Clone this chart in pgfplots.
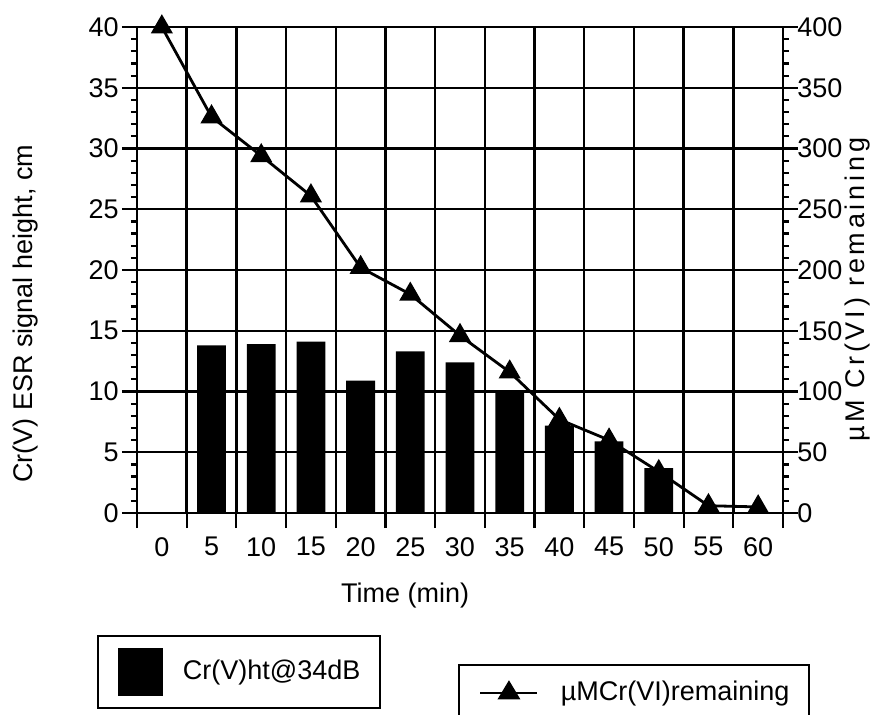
\documentclass[border=0pt]{standalone}
\usepackage{fontspec}
\setmainfont{Liberation Sans}
\newfontfamily\spaced[LetterSpace=14]{Liberation Sans}
\usepackage{pgfplots}
\pgfplotsset{compat=1.18}
\pgfplotstableread{
x y
5 13.8
10 13.9
15 14.1
20 10.9
25 13.3
30 12.4
35 10.0
40 7.2
45 5.9
50 3.7
}\bars
\pgfplotstableread{
x y
0 400
5 326
10 294
15 261
20 202
25 180
30 146
35 116
40 77
45 60
50 34
55 6
60 5
}\remain
\begin{document}
\fontsize{13.5bp}{16bp}\selectfont
\begin{tikzpicture}
\pgfplotsset{
  common/.style={
    scale only axis, width=323bp, height=243bp,
    at={(0,0)}, anchor=south west,
    xmin=-2.5, xmax=62.5,
    /pgf/number format/assume math mode=true,
    tick align=outside,
    major tick length=7.5bp, minor tick length=3bp,
    axis line style={line width=1.2bp, black},
    every tick/.style={line width=1.1bp, black},
    tick label style={inner sep=0pt},
  }
}
\begin{axis}[common,
  ymin=0, ymax=40,
  ytick={0,5,...,40}, minor y tick num=4,
  ytick pos=left,
  xtick={-2.5,2.5,...,62.5},
  xticklabels={0,5,10,15,20,25,30,35,40,45,50,55,60,{}},
  x tick label style={anchor=north, xshift=12.42bp, yshift=-4.5bp},
  xtick pos=bottom,
  xmajorgrids, ymajorgrids,
  grid style={black, line width=1.2bp},
  y tick label style={anchor=east, xshift=-1.5bp},
  ylabel={Cr(V) ESR signal height, cm},
  ylabel style={at={(axis description cs:-0.173,0.41)}, anchor=center},
  xlabel={Time (min)},
  xlabel style={at={(axis description cs:0.415,-0.169)}, anchor=center},
  legend style={at={(axis description cs:-0.062,-0.251)}, anchor=north west,
    draw=black, line width=1bp, inner xsep=10bp, inner ysep=6bp,
    /tikz/every odd column/.style={column sep=10bp},
    nodes={inner sep=0pt}},
]
\addplot[ybar, bar width=2.9, fill=black, draw=none,
  legend image code/.code={\fill[black] (0bp,-12bp) rectangle (22.5bp,12bp);}]
  table[x=x,y=y] {\bars};
\addlegendentry{Cr(V)ht@34dB}
\end{axis}
\begin{axis}[common,
  ymin=0, ymax=400,
  ytick={0,50,...,400}, minor y tick num=4,
  axis y line*=right, axis x line=none,
  y tick label style={anchor=west, xshift=-0.5bp},
  ylabel={{\spaced \textmu M Cr(VI) remaining}},
  ylabel style={at={(axis description cs:1.116,0.459)}, anchor=center},
  legend style={at={(axis description cs:0.497,-0.311)}, anchor=north west,
    draw=black, line width=1bp, inner xsep=10bp, inner ysep=8bp,
    /tikz/every odd column/.style={column sep=11bp},
    nodes={inner sep=0pt}},
]
\addplot[black, line width=1.4bp, mark=triangle*, mark size=5bp,
  mark options={solid},
  legend image code/.code={
    \draw[black, line width=1.4bp] (0bp,0bp) -- (28.5bp,0bp);
    \fill[black] (14.25bp,5bp) -- (9.75bp,-2.5bp) -- (18.75bp,-2.5bp) -- cycle;}]
  table[x=x,y=y] {\remain};
\addlegendentry{\textmu MCr(VI)remaining}
\end{axis}
\pgfresetboundingbox
\useasboundingbox (-68.5bp,-101bp) rectangle (373bp,256.5bp);
\end{tikzpicture}
\end{document}
